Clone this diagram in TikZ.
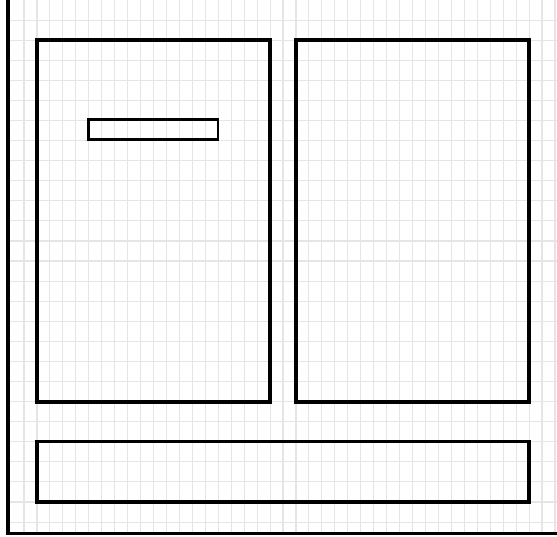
\documentclass[tikz,border=0pt]{standalone}
\begin{document}
\begin{tikzpicture}[x=1pt,y=-1pt,
  gridline/.style={draw=black!10,line width=1.1pt},
  panel/.style={draw=black,line width=3.3pt},
  slot/.style={draw=black,line width=2.2pt},
  frame/.style={draw=black,line width=3.8pt}]
\useasboundingbox[fill=white] (0,0) rectangle (557,537);
% grid
\foreach \k in {0,...,41}{
  \draw[gridline] ({24+12.95*\k},0) -- ({24+12.95*\k},533);
}
\foreach \k in {1,...,26}{
  \draw[gridline] (8,{20.08*\k}) -- (557,{20.08*\k});
}
% panels
\draw[panel] (37,40) rectangle (270,402);
\draw[panel] (296,40) rectangle (529,402);
\draw[panel] (37,441.7) rectangle (529,502);
\draw[slot] (88.5,119.5) rectangle (218,139.5);
% outer frame
\draw[frame] (8,0) -- (8,533.5) -- (557,533.5);
\end{tikzpicture}
\end{document}
